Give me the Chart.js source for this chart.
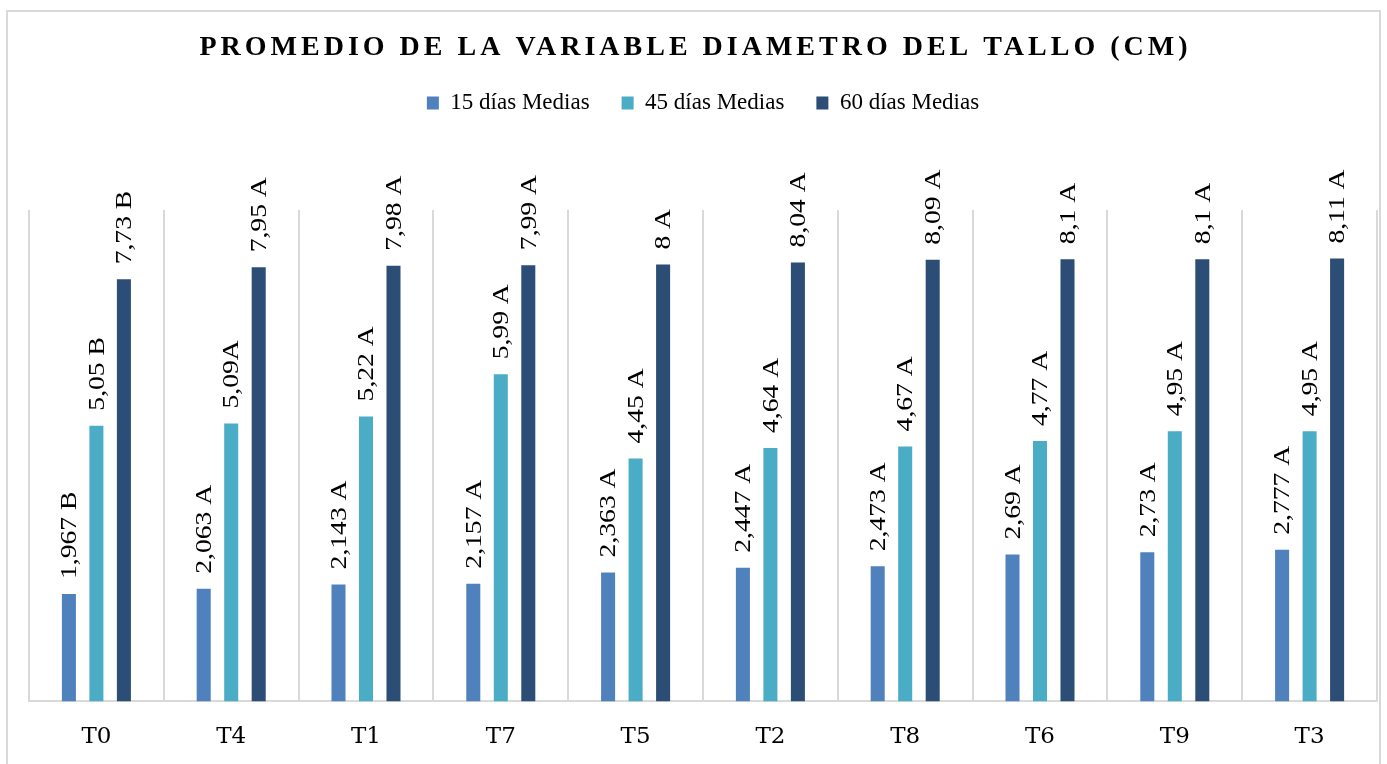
<!DOCTYPE html>
<html>
<head>
<meta charset="utf-8">
<script src="https://cdn.jsdelivr.net/npm/chart.js@4.4.1/dist/chart.umd.min.js"></script>
<style>
  html, body { margin: 0; padding: 0; background: #fff; }
  #wrap { position: relative; width: 1387px; height: 764px; overflow: hidden; }
  #frame { position: absolute; left: 6px; top: 10px; width: 1375px; height: 800px;
           border: 2px solid #d9d9d9; box-sizing: border-box; pointer-events: none; }
  canvas { position: absolute; left: 0; top: 0; }
</style>
</head>
<body>
<div id="wrap">
  <div id="frame"></div>
  <canvas id="chart" width="1387" height="764"></canvas>
</div>
<script>
// data
const tratamientos = ["T0", "T4", "T1", "T7", "T5", "T2", "T8", "T6", "T9", "T3"];

const medias15 = [1.967, 2.063, 2.143, 2.157, 2.363, 2.447, 2.473, 2.69, 2.73, 2.777];
const medias45 = [5.05, 5.09, 5.22, 5.99, 4.45, 4.64, 4.67, 4.77, 4.95, 4.95];
const medias60 = [7.73, 7.95, 7.98, 7.99, 8, 8.04, 8.09, 8.1, 8.1, 8.11];

const etiquetas15 = ["1,967 B", "2,063 A", "2,143 A", "2,157 A", "2,363 A", "2,447 A", "2,473 A", "2,69 A", "2,73 A", "2,777 A"];
const etiquetas45 = ["5,05 B", "5,09A", "5,22 A", "5,99 A", "4,45 A", "4,64 A", "4,67 A", "4,77 A", "4,95 A", "4,95 A"];
const etiquetas60 = ["7,73 B", "7,95 A", "7,98 A", "7,99 A", "8 A", "8,04 A", "8,09 A", "8,1 A", "8,1 A", "8,11 A"];

const titulo = "PROMEDIO DE LA VARIABLE DIAMETRO DEL TALLO (CM)";

Chart.defaults.font.family = "'Liberation Serif', 'Times New Roman', serif";
Chart.defaults.color = "#000";

// extra room under the legend
const legendMargin = {
  id: "legendMargin",
  beforeInit(chart) {
    const fit = chart.legend.fit;
    chart.legend.fit = function () {
      fit.call(this);
      this.height += 85.5;
    };
  },
};

// spaced bold title
const tituloPlugin = {
  id: "tituloPlugin",
  afterDraw(chart) {
    const ctx = chart.ctx;
    ctx.save();
    ctx.font = "bold 28px 'Liberation Serif', serif";
    ctx.letterSpacing = "4px";
    ctx.fillStyle = "#000";
    ctx.textAlign = "center";
    ctx.textBaseline = "middle";
    ctx.fillText(titulo, chart.width / 2 + 2, 48);
    ctx.restore();
  },
};

// vertical value labels above each bar
const etiquetasPlugin = {
  id: "etiquetasPlugin",
  afterDatasetsDraw(chart) {
    const ctx = chart.ctx;
    ctx.save();
    ctx.font = "24px 'Liberation Serif', serif";
    ctx.fillStyle = "#000";
    ctx.textAlign = "left";
    ctx.textBaseline = "middle";
    chart.data.datasets.forEach((ds, i) => {
      const meta = chart.getDatasetMeta(i);
      meta.data.forEach((bar, j) => {
        ctx.save();
        ctx.translate(bar.x + 1, bar.y - 15);
        ctx.rotate(-Math.PI / 2);
        ctx.scale(1.15, 1);
        ctx.fillText(ds.etiquetas[j], 0, 0);
        ctx.restore();
      });
    });
    ctx.restore();
  },
};

new Chart(document.getElementById("chart"), {
  type: "bar",
  data: {
    labels: tratamientos,
    datasets: [
      { label: "15 días Medias", data: medias15, etiquetas: etiquetas15, backgroundColor: "#4f81bd" },
      { label: "45 días Medias", data: medias45, etiquetas: etiquetas45, backgroundColor: "#4bacc6" },
      { label: "60 días Medias", data: medias60, etiquetas: etiquetas60, backgroundColor: "#2c4d75" },
    ],
  },
  options: {
    responsive: false,
    animation: false,
    categoryPercentage: 0.612,
    barPercentage: 0.51,
    layout: { padding: { top: 59.5, left: 29, right: 10, bottom: -9 } },
    plugins: {
      legend: {
        position: "top",
        labels: {
          boxWidth: 12,
          boxHeight: 13,
          padding: 32,
          font: { size: 23 },
          color: "#000",
        },
      },
      tooltip: { enabled: false },
    },
    scales: {
      x: {
        grid: { color: "#d9d9d9", lineWidth: 2, drawTicks: false },
        border: { color: "#d9d9d9", width: 2 },
        ticks: {
          padding: 22,
          color: "#000",
          font: { family: "'DejaVu Serif', serif", size: 23 },
        },
      },
      y: {
        display: false,
        min: 0,
        max: 9,
      },
    },
  },
  plugins: [legendMargin, tituloPlugin, etiquetasPlugin],
});
</script>
</body>
</html>
